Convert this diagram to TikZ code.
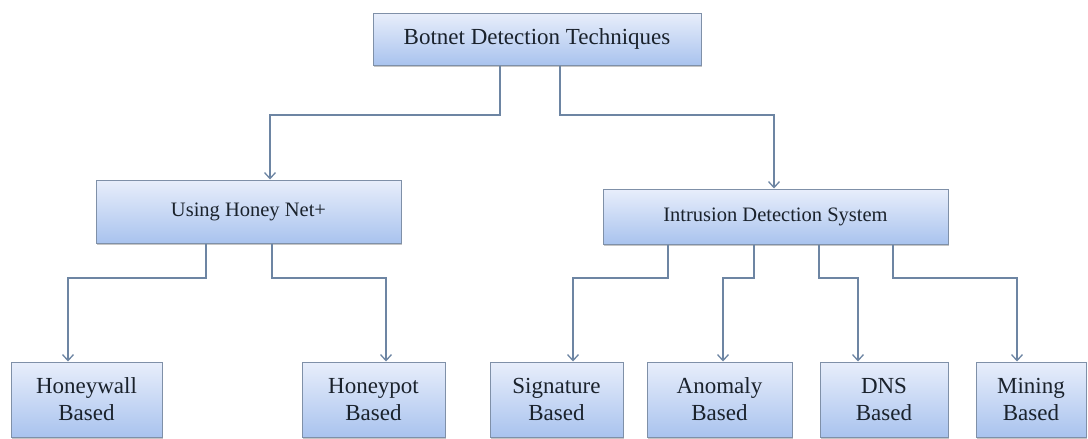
\documentclass[tikz,border=0pt]{standalone}
\usepackage{fontspec}
\setmainfont{Liberation Serif}
\newfontfamily\boxfont{Liberation Serif}
\usetikzlibrary{arrows.meta,shadows}

\definecolor{boxtop}{HTML}{E8EEFB}
\definecolor{boxbot}{HTML}{A9C3EE}
\definecolor{boxline}{HTML}{7F90A8}
\definecolor{linkcol}{HTML}{6D85A3}
\definecolor{txtcol}{HTML}{1A222C}

\tikzset{
    box/.style={draw=boxline, line width=1pt, top color=boxtop, bottom color=boxbot,
        inner sep=0pt, align=center, text=txtcol,
        drop shadow={shadow xshift=0.6pt, shadow yshift=-1.6pt, fill=black!45}},
    bigtext/.style={font=\boxfont\fontsize{23}{27}\selectfont},
    midtext/.style={font=\boxfont\fontsize{20.5}{25}\selectfont},
    link/.style={draw=linkcol, line width=1.3pt},
    arr/.style={link, -{Straight Barb[length=6pt,width=11pt,line width=1.3pt]}}
}

\begin{document}
\begin{tikzpicture}[x=1pt, y=-1pt]
    \clip (0,0) rectangle (1088,439);
    \fill[white] (0,0) rectangle (1088,439);

    \node[box, bigtext, minimum width=328pt, minimum height=52pt] (techniques) at (537,39) {Botnet Detection Techniques};

    \node[box, midtext, minimum width=305pt, minimum height=63pt] (honeynet) at (248.5,211.5) {Using Honey Net+};
    \node[box, midtext, minimum width=345pt, minimum height=55pt] (ids) at (775.5,216.5) {Intrusion Detection System};

    \node[box, bigtext, minimum width=151pt, minimum height=75pt] (honeywall) at (86.5,399.5) {Honeywall\\Based};
    \node[box, bigtext, minimum width=143pt, minimum height=75pt] (honeypot) at (373.5,399.5) {Honeypot\\Based};
    \node[box, bigtext, minimum width=133pt, minimum height=75pt] (signature) at (556.5,399.5) {Signature\\Based};
    \node[box, bigtext, minimum width=145pt, minimum height=75pt] (anomaly) at (719.5,399.5) {Anomaly\\Based};
    \node[box, bigtext, minimum width=128pt, minimum height=75pt] (dns) at (884,399.5) {DNS\\Based};
    \node[box, bigtext, minimum width=110pt, minimum height=75pt] (mining) at (1031,399.5) {Mining\\Based};

    \draw[arr] (techniques.south -| 500,0) |- (270,115) -- (honeynet.north -| 270,0);
    \draw[arr] (techniques.south -| 560,0) |- (774,115) -- (ids.north -| 774,0);

    \draw[arr] (honeynet.south -| 206,0) |- (68,278) -- (honeywall.north -| 68,0);
    \draw[arr] (honeynet.south -| 272,0) |- (386,278) -- (honeypot.north -| 386,0);

    \draw[arr] (ids.south -| 668,0) |- (573,278) -- (signature.north -| 573,0);
    \draw[arr] (ids.south -| 754,0) |- (723,278) -- (anomaly.north -| 723,0);
    \draw[arr] (ids.south -| 819,0) |- (858,278) -- (dns.north -| 858,0);
    \draw[arr] (ids.south -| 893,0) |- (1017,278) -- (mining.north -| 1017,0);
\end{tikzpicture}
\end{document}
